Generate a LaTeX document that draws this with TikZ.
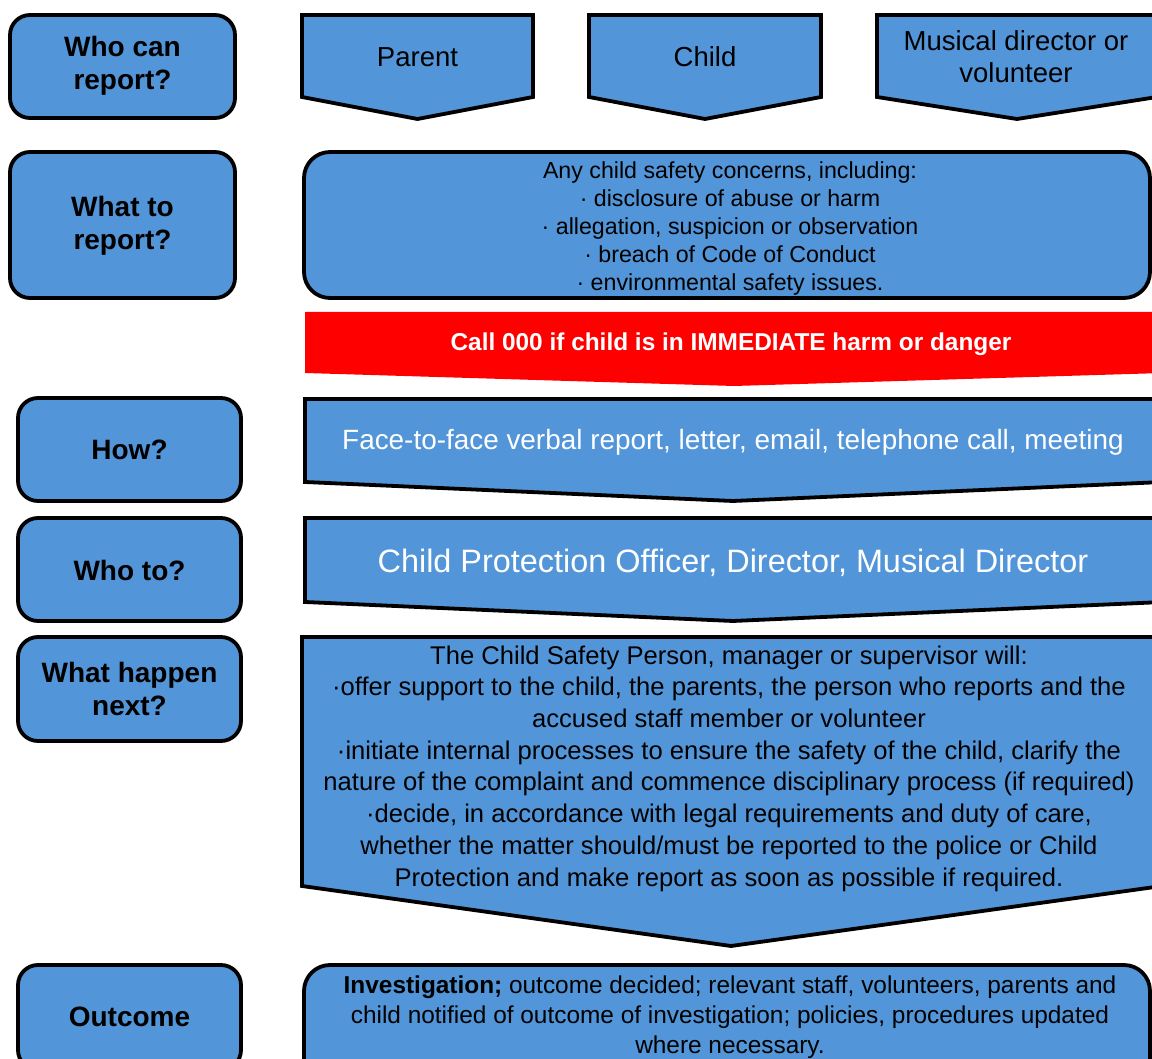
\documentclass[tikz,border=0pt]{standalone}
\usepackage{fontspec}
\setmainfont{Liberation Sans}
\definecolor{boxblue}{RGB}{82,149,216}
\definecolor{alertred}{RGB}{255,0,0}
\tikzset{
  shp/.style={draw=black, line width=3.8pt, fill=boxblue, line join=miter},
  leftbox/.style={shp, rounded corners=20pt},
  rbox/.style={shp, rounded corners=26pt},
  redbar/.style={fill=alertred, draw=none},
  lbl/.style={align=center, inner sep=0pt, font=\fontsize{28}{33}\selectfont\bfseries},
  who/.style={align=center, inner sep=0pt, font=\fontsize{27.5}{32}\selectfont},
  body/.style={align=center, inner sep=0pt},
}
\begin{document}
\begin{tikzpicture}[x=1pt, y=-1pt]
\useasboundingbox (0,0) rectangle (1152,1059);
\clip (0,0) rectangle (1152,1059);
% left column
\draw[leftbox] (10,15) rectangle (235,118);
\draw[leftbox] (10,152) rectangle (235,298);
\draw[leftbox] (18,398) rectangle (241,501);
\draw[leftbox] (18,518) rectangle (241,621);
\draw[leftbox] (18,637) rectangle (241,741);
\draw[leftbox] (18,965) rectangle (241,1070);
\node[lbl] (q1) at (122.5,66) {Who can\\report?};
\node[lbl] (q2) at (122.5,226) {What to\\report?};
\node[lbl] (q3) at (129.5,450) {How?};
\node[lbl] (q4) at (129.5,570) {Who to?};
\node[lbl] (q5) at (129.5,689) {What happen\\next?};
\node[lbl] (q6) at (129.5,1017) {Outcome};
% who can report
\draw[shp] (302,15) -- (533,15) -- (533,97) -- (417.5,119) -- (302,97) -- cycle;
\draw[shp] (589,15) -- (821,15) -- (821,97) -- (705,119) -- (589,97) -- cycle;
\draw[shp] (877,15) -- (1157,15) -- (1157,97) -- (1017,119) -- (877,97) -- cycle;
\node[who] (parent) at (417.5,57) {Parent};
\node[who] (child) at (705,57) {Child};
\node[who] (md) at (1016,57) {Musical director or\\volunteer};
% what to report
\draw[rbox] (304,152) rectangle (1150,298);
\node[body, font=\fontsize{23.2}{28}\selectfont] (what) at (730,228.5)
  {Any child safety concerns, including:\\
   · disclosure of abuse or harm\\
   · allegation, suspicion or observation\\
   · breach of Code of Conduct\\
   · environmental safety issues.};
% red bar
\fill[redbar] (305,312) -- (1163,312) -- (1163,373) -- (734,386) -- (305,373) -- cycle;
\node[body, text=white, font=\fontsize{24.4}{28}\selectfont\bfseries] (call) at (731,344.5)
  {Call 000 if child is in IMMEDIATE harm or danger};
% how
\draw[shp] (305,399) -- (1163,399) -- (1163,482) -- (733,501) -- (305,482) -- cycle;
\node[body, text=white, font=\fontsize{27.9}{32}\selectfont] (how) at (733,442.5)
  {Face-to-face verbal report, letter, email, telephone call, meeting};
% who to
\draw[shp] (305,518) -- (1163,518) -- (1163,602) -- (733,621) -- (305,602) -- cycle;
\node[body, text=white, font=\fontsize{32.4}{36}\selectfont] (whoto) at (733,562.5)
  {Child Protection Officer, Director, Musical Director};
% what happens next
\draw[shp] (302,637) -- (1162,637) -- (1162,886) -- (731,946) -- (302,886) -- cycle;
\node[body, font=\fontsize{25.6}{31.7}\selectfont] (next) at (729,768.5)
  {The Child Safety Person, manager or supervisor will:\\
   ·offer support to the child, the parents, the person who reports and the\\
   accused staff member or volunteer\\
   ·initiate internal processes to ensure the safety of the child, clarify the\\
   nature of the complaint and commence disciplinary process (if required)\\
   ·decide, in accordance with legal requirements and duty of care,\\
   whether the matter should/must be reported to the police or Child\\
   Protection and make report as soon as possible if required.};
% outcome
\draw[rbox] (304,965) rectangle (1150,1085);
\node[body, font=\fontsize{24.4}{30}\selectfont] (out) at (730,1017)
  {\textbf{Investigation;} outcome decided; relevant staff, volunteers, parents and\\
   child notified of outcome of investigation; policies, procedures updated\\
   where necessary.};
\end{tikzpicture}
\end{document}
